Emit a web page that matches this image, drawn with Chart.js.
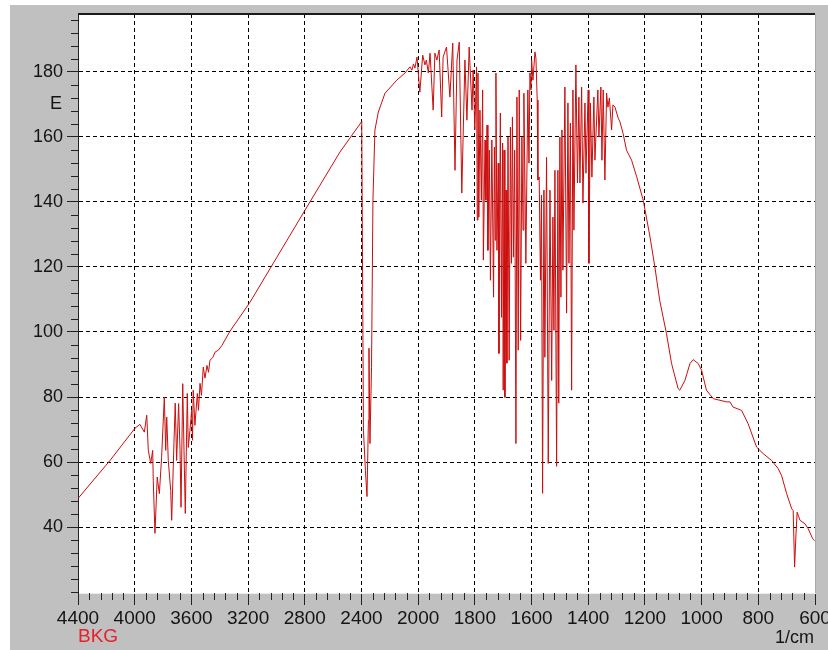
<!DOCTYPE html>
<html><head><meta charset="utf-8">
<script src="https://cdn.jsdelivr.net/npm/chart.js@4/dist/chart.umd.min.js"></script>
<style>
html,body{margin:0;padding:0;background:#fff;}
#wrap{position:absolute;left:10px;top:5px;width:818px;height:645px;background:#c0c0c0;}
canvas{display:block;}
</style></head><body><div id="wrap"><canvas id="c" width="818" height="645"></canvas></div>
<script>
const wavenumbers = [
4400,4174,3998,3963,3932,3915,3904,3887,3873,3869,3857,3841,3826,3810,3791,3781,3774,3763,3746,3739,
3723,3714,3704,3690,3680,3673,3661,3652,3643,3629,3622,3610,3598,3592,3587,3575,3558,3550,3539,3529,
3516,3504,3490,3479,3469,3448,3433,3410,3384,3328,3187,2799,2552,2398,2386,2372,2361,2351,2347,2340,
2329,2319,2305,2281,2234,2151,2093,2058,2044,2033,2023,2008,1994,1984,1976,1971,1964,1958,1947,1941,
1934,1926,1917,1912,1900,1888,1878,1870,1863,1855,1846,1835,1828,1820,1810,1806,1800,1794,1791.5,1789,
1786,1782,1777,1772.5,1770,1764,1761,1757,1754,1749,1745,1740,1734,1731,1728,1725.6,1722,1717.5,1715,1710,
1706,1702,1700,1697,1694,1690,1687,1683,1679,1674.5,1671,1667.4,1664,1659.6,1655,1651.5,1647,1643.4,1638.5,1634,
1630,1627,1620,1613,1609,1605.7,1602,1599.7,1595,1588,1584.5,1580,1577.5,1573,1568.6,1565,1561,1556.3,1553,1547,
1541,1535,1529,1524.6,1521,1517.5,1511.5,1507,1504,1500,1496.3,1492.8,1489.3,1482.3,1476.3,1471.6,1468,1463,1458.6,1454,
1450.5,1443.5,1438,1433,1429.3,1423.3,1418.7,1411.6,1408,1400,1397.6,1392.3,1387,1380,1376.4,1366,1362.3,1355.3,1351.7,1347.2,
1341.2,1335.2,1330.6,1325.3,1317.5,1313,1306,1294,1288,1277,1265,1247,1229,1206,1182,1165,1148,1124,1106,1083,
1077,1059,1041,1030,1012,1000,983,959,912,900,889,859,836,806,783,753,730,718,700,682,
677,672,667,663,653,635,624,608,601
];
const energy = [
48.8,60.5,70.4,71.6,69.2,74.4,63.6,59.6,63.6,54.4,38.1,55.4,50.3,61.5,80.0,63.6,73.8,60.5,51.3,42.1,
65.7,78.1,60.5,78.0,63.6,46.1,84.1,63.6,44.2,81.1,64.5,69.8,75.9,66.7,82.1,71.3,81.1,75.9,84.2,80.5,
89.2,85.8,89.7,87.6,91.3,92.2,93.8,94.4,95.9,100.2,109.1,137.4,155.3,164.7,69.8,57.4,49.4,72.8,95.0,65.7,
89.1,140.5,162.1,167.6,173.4,177.4,179.6,181.5,180.5,182.4,181.1,184.5,173.7,185.1,182.1,183.6,179.6,185.7,168.2,185.7,
183.6,186.7,166.1,184.5,187.6,172.2,188.8,149.7,183.6,189.1,142.7,183.6,165.1,187.6,168.2,180.5,162.1,181.5,134.4,179.6,
135.3,168.2,140.5,174.4,122.1,159.0,140.5,163.6,125.1,155.9,115.9,159.0,110.7,156.8,128.2,179.6,125.1,151.9,93.4,167.3,
104.5,158.1,82.1,155.9,79.9,143.6,90.4,159.9,91.3,163.0,121.1,166.1,123.0,155.9,65.7,172.2,94.4,174.4,97.4,159.9,
131.3,173.4,121.1,174.4,151.9,179.6,174.4,183.6,177.4,186.1,184.2,171.3,146.7,147.6,115.9,142.1,50.4,143.6,92.2,153.7,
59.6,143.6,85.1,135.3,100.5,149.7,58.7,149.7,78.1,159.9,110.7,162.1,119.0,175.3,105.8,170.4,121.1,164.2,82.1,174.4,
131.3,182.1,145.8,172.2,145.8,175.3,139.6,170.4,148.8,174.4,121.1,170.4,147.6,172.2,152.8,174.4,159.9,175.3,152.8,174.4,
146.7,173.4,169.1,171.9,162.1,169.8,169.2,165.7,164.6,161.0,155.9,152.8,147.7,140.5,129.2,120.0,109.8,99.5,90.3,82.6,
82.1,85.1,90.3,91.5,90.3,88.2,82.1,79.5,78.5,78.5,76.9,75.9,71.8,64.6,62.6,60.5,58.0,55.9,50.3,45.6,
45.1,27.7,38.0,44.6,42.1,41.0,39.5,36.4,35.8
];
const xTickLabels = [4400,4000,3600,3200,2800,2400,2000,1800,1600,1400,1200,1000,800,600];
const yTickLabels = [40,60,80,100,120,140,160,180];
const xAxisUnit = '1/cm';
const yAxisLetter = 'E';
const sampleName = 'BKG';

// Wavenumber axis changes scale at 2000 1/cm (400 per division above, 200 per division below)
const toU = w => w >= 2000 ? (4400 - w) / 400 : 6 + (2000 - w) / 200;
const points = wavenumbers.map((w, i) => ({x: toU(w), y: energy[i]}));

const FONT = '"Liberation Sans", Arial, sans-serif';

const framePlugin = {
  id: 'frame',
  beforeDraw(chart) {
    const {ctx, chartArea: a} = chart;
    ctx.save();
    ctx.fillStyle = '#ffffff';
    ctx.fillRect(a.left, a.top, a.right - a.left, a.bottom - a.top);
    ctx.restore();
  },
  afterDraw(chart) {
    const {ctx, chartArea: a, scales: {x, y}} = chart;
    ctx.save();
    ctx.strokeStyle = '#222';
    ctx.lineWidth = 1;
    for (let i = 0; i < xTickLabels.length - 1; i++) {
      const u0 = toU(xTickLabels[i]), u1 = toU(xTickLabels[i + 1]);
      for (let k = 1; k < 5; k++) {
        const px = Math.round(x.getPixelForValue(u0 + (u1 - u0) * k / 5)) + 0.5;
        ctx.beginPath(); ctx.moveTo(px, a.bottom); ctx.lineTo(px, a.bottom + 7); ctx.stroke();
      }
    }
    for (let v = 20; v <= y.max; v += 4) {
      if (yTickLabels.includes(v) || v < y.min) continue;
      const py = Math.round(y.getPixelForValue(v)) + 0.5;
      ctx.beginPath(); ctx.moveTo(a.left - 7, py); ctx.lineTo(a.left, py); ctx.stroke();
    }
    ctx.strokeStyle = '#1a1a1a'; ctx.lineWidth = 2;
    ctx.beginPath(); ctx.moveTo(a.left, a.top); ctx.lineTo(a.right, a.top); ctx.stroke();
    ctx.strokeStyle = '#a8a8a8'; ctx.lineWidth = 1;
    ctx.beginPath(); ctx.moveTo(a.right + 0.5, a.top); ctx.lineTo(a.right + 0.5, a.bottom); ctx.stroke();

    ctx.textBaseline = 'middle';
    ctx.font = '19px ' + FONT;
    ctx.fillStyle = '#e8202a';
    ctx.textAlign = 'left';
    ctx.fillText(sampleName, a.left, 632);
    ctx.fillStyle = '#141414';
    ctx.font = '18px ' + FONT;
    ctx.textAlign = 'right';
    ctx.fillText(xAxisUnit, a.right - 1, 633);
    ctx.fillText(yAxisLetter, a.left - 16, y.getPixelForValue(170));
    ctx.restore();
  }
};

new Chart(document.getElementById('c'), {
  type: 'line',
  data: {
    datasets: [{
      data: points,
      borderColor: '#cc0d0d',
      borderWidth: 1,
      pointRadius: 0,
      tension: 0,
      fill: false
    }]
  },
  options: {
    responsive: false,
    animation: false,
    events: [],
    layout: {padding: {top: 9, right: 13, left: 0, bottom: 0}},
    plugins: {legend: {display: false}, tooltip: {enabled: false}},
    scales: {
      x: {
        type: 'linear',
        min: 0,
        max: 13,
        afterBuildTicks: s => { s.ticks = xTickLabels.map(w => ({value: toU(w)})); },
        afterFit: s => { s.height = 57; s.paddingLeft = 0; s.paddingRight = 0; },
        ticks: {
          autoSkip: false, maxRotation: 0, minRotation: 0, padding: 2,
          color: '#141414', font: {family: FONT, size: 19},
          callback: (v, i) => String(xTickLabels[i])
        },
        grid: {
          color: c => (c.index === 0 || c.index === xTickLabels.length - 1) ? 'transparent' : '#000',
          lineWidth: 1, tickLength: 12, tickColor: '#222', tickWidth: 1, tickBorderDash: []
        },
        border: {display: true, color: '#ececec', width: 1, dash: [4, 3]}
      },
      y: {
        type: 'linear',
        min: 19.75,
        max: 197.75,
        afterBuildTicks: s => { s.ticks = yTickLabels.map(v => ({value: v})); },
        afterFit: s => { s.width = 68; s.paddingTop = 0; s.paddingBottom = 0; },
        ticks: {
          autoSkip: false, padding: 4,
          color: '#141414', font: {family: FONT, size: 18},
          callback: v => String(v)
        },
        grid: {
          color: '#000', lineWidth: 1, tickLength: 11, tickColor: '#222', tickWidth: 1, tickBorderDash: []
        },
        border: {display: true, color: '#222', width: 1, dash: [4, 3]}
      }
    }
  },
  plugins: [framePlugin]
});
</script>
</body></html>
